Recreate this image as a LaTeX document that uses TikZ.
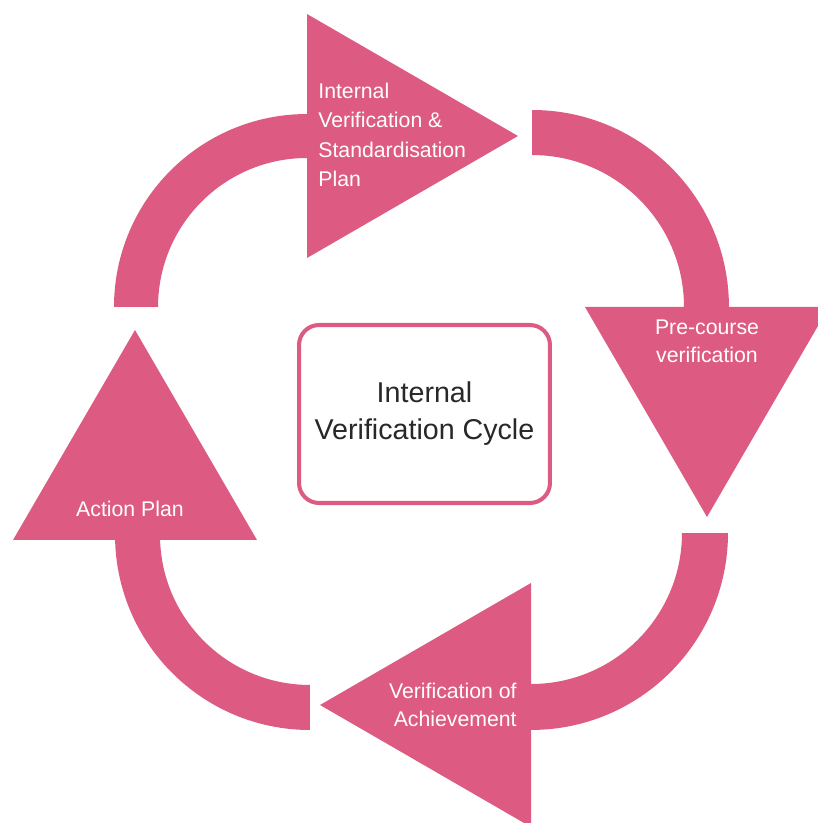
\documentclass[tikz,border=0pt]{standalone}
\usepackage{fontspec}
\setmainfont{Liberation Sans}
\usetikzlibrary{positioning}

\definecolor{cyclepink}{RGB}{221,91,130}
\definecolor{cyclegrey}{RGB}{40,40,40}

\begin{document}
\begin{tikzpicture}[x=0.02cm,y=0.02cm]
  \useasboundingbox (0,0) rectangle (818,823);
  \tikzstyle{ArrowStyle}=[fill=cyclepink]
  \tikzstyle{LabelStyle}=[text=white,inner sep=0pt,
                          font=\fontsize{12.1}{16.5}\selectfont]
  \tikzstyle{BoxStyle}=[draw=cyclepink,line width=2.3pt,fill=white,
                        rounded corners=0.4cm,minimum width=5.02cm,
                        minimum height=3.56cm,text=cyclegrey,align=center,
                        font=\fontsize{16.3}{21}\selectfont]
  % curved bands
  \fill[ArrowStyle] (114,516) arc[start angle=180,end angle=90,radius=3.86cm]
    -- (307,665) arc[start angle=90,end angle=180,radius=2.98cm] -- cycle;
  \fill[ArrowStyle] (532,713) arc[start angle=90,end angle=0,radius=3.94cm]
    -- (684,516) arc[start angle=0,end angle=90,radius=3.04cm] -- cycle;
  \fill[ArrowStyle] (728,290) arc[start angle=0,end angle=-90,radius=3.94cm]
    -- (531,139) arc[start angle=-90,end angle=0,radius=3.02cm] -- cycle;
  \fill[ArrowStyle] (310,93) arc[start angle=270,end angle=180,radius=3.90cm]
    -- (160,288) arc[start angle=180,end angle=270,radius=3.00cm] -- cycle;
  % heads
  \fill[ArrowStyle] (307,809) -- (518,687) -- (307,565) -- cycle;
  \fill[ArrowStyle] (585,516) -- (829,516) -- (707,306) -- cycle;
  \fill[ArrowStyle] (531,240) -- (320,118) -- (531,-4) -- cycle;
  \fill[ArrowStyle] (13,283) -- (257,283) -- (135,493) -- cycle;
  % texts (base = last line)
  \node[LabelStyle,anchor=base west,align=left,
        font=\fontsize{12.1}{16.8}\selectfont] (plan) at (318,636)
    {Internal\\Verification \&\\Standardisation\\Plan};
  \node[LabelStyle,anchor=base,align=center] (precourse) at (707,460)
    {Pre-course\\verification};
  \node[LabelStyle,anchor=base east,align=right] (achieve) at (517,96)
    {Verification of\\Achievement};
  \node[LabelStyle,anchor=base] (action) at (130,306) {Action Plan};
  \node[BoxStyle] (centre) at (424.5,409)
    {Internal\\Verification Cycle};
\end{tikzpicture}
\end{document}
